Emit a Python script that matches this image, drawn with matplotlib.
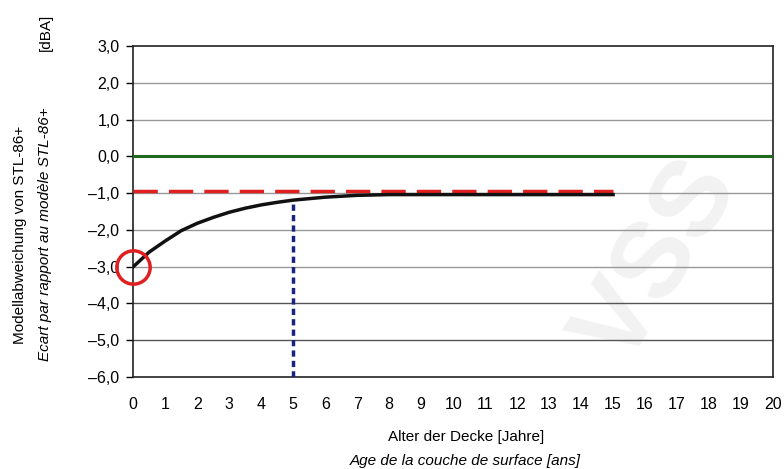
import matplotlib.pyplot as plt
import numpy as np

plt.rcParams['font.family'] = ['Liberation Sans', 'DejaVu Sans']

# data
alter = [0, 0.5, 1, 1.5, 2, 2.5, 3, 3.5, 4, 4.5, 5, 6, 7, 8, 10, 12, 15]
abweichung = [-3.0, -2.6, -2.3, -2.02, -1.82, -1.66, -1.52, -1.41, -1.32, -1.25, -1.19, -1.11, -1.06, -1.04, -1.04, -1.04, -1.04]
grenze_x = [0, 15]
grenze_y = [-0.93, -0.93]
referenz_y = 0.0
marker_x = 5
marker_y = -1.19
start_x, start_y = 0, -3.0

xticks = list(range(0, 21))
yticks = [3, 2, 1, 0, -1, -2, -3, -4, -5, -6]

fig = plt.figure(figsize=(7.84, 4.69), dpi=100)
ax = fig.add_axes([0.170, 0.196, 0.816, 0.706])

# watermark
fig.text(0.84, 0.44, 'VSS', fontsize=78, fontweight='bold', color='#f2f2f2',
         rotation=58, ha='center', va='center', zorder=-1)
ax.set_facecolor('none')

for y in yticks:
    if y in (0, 3, -6):
        continue
    c = '#555555' if y <= -4 else '#999999'
    ax.axhline(y, color=c, lw=1.0, zorder=1)

ax.axhline(referenz_y, color='#1e6b1e', lw=2.2, zorder=3)
ax.plot(grenze_x, grenze_y, color='#e02020', lw=2.5, dashes=(7, 3.2), zorder=4)
ax.plot(alter, abweichung, color='#111111', lw=2.5, zorder=5)
ax.plot([marker_x, marker_x], [-6, marker_y], color='#1a237e', lw=2.5,
        dashes=(1.8, 1.2), zorder=4)
ax.plot([start_x], [start_y], marker='o', markersize=24, markerfacecolor='none',
        markeredgecolor='#e02020', markeredgewidth=2.5, clip_on=False, zorder=6)

ax.set_xlim(0, 20)
ax.set_ylim(-6, 3)
ax.set_xticks(xticks)
ax.set_yticks(yticks)
ax.set_yticklabels([('%.1f' % v).replace('.', ',').replace('-', '\u2013') for v in yticks])
ax.tick_params(axis='x', length=0, pad=14, labelsize=11.5)
ax.tick_params(axis='y', length=5, width=1, labelsize=11.5, pad=5)
for s in ax.spines.values():
    s.set_color('#222222')
    s.set_linewidth(1.2)

fig.text(0.594, 0.068, 'Alter der Decke [Jahre]', ha='center', va='center', fontsize=11)
fig.text(0.594, 0.017, 'Age de la couche de surface [ans]', ha='center', va='center',
         fontsize=11, style='italic')
fig.text(0.026, 0.5, 'Modellabweichung von STL-86+', rotation=90, ha='center',
         va='center', fontsize=11)
fig.text(0.058, 0.5, 'Ecart par rapport au modèle STL-86+', rotation=90, ha='center',
         va='center', fontsize=11, style='italic')
fig.text(0.058, 0.93, '[dBA]', rotation=90, ha='center', va='center', fontsize=11)

fig.savefig('out.png', dpi=100)
